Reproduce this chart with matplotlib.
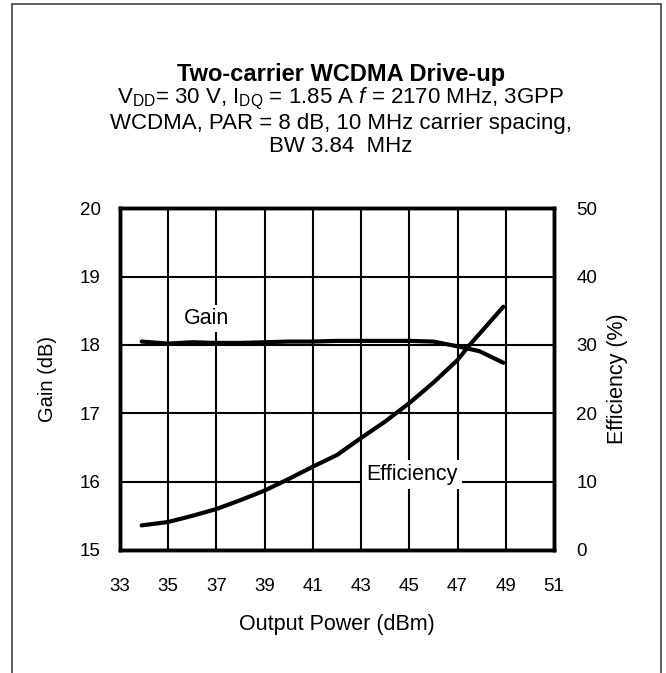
import matplotlib.pyplot as plt
from matplotlib.patches import Rectangle

plt.rcParams['font.family'] = ['Liberation Sans', 'DejaVu Sans']
plt.rcParams['mathtext.fontset'] = 'custom'
plt.rcParams['mathtext.rm'] = 'Liberation Sans'
plt.rcParams['mathtext.it'] = 'Liberation Sans:italic'

# data
pout = [33.9, 35.0, 36.0, 37.0, 38.0, 39.0, 40.0, 41.0, 42.0, 43.0, 44.0, 45.0, 46.0, 47.0, 47.9, 48.9]
gain = [18.05, 18.02, 18.04, 18.03, 18.03, 18.04, 18.05, 18.05, 18.06, 18.06, 18.06, 18.06, 18.05, 17.98, 17.91, 17.74]

pout_eff = [33.9, 35.0, 36.0, 37.0, 38.0, 39.0, 40.0, 41.0, 42.0, 43.0, 44.0, 45.0, 46.0, 47.0, 47.5, 48.0, 48.9]
eff = [3.6, 4.1, 5.0, 6.0, 7.3, 8.7, 10.4, 12.2, 13.9, 16.4, 18.8, 21.5, 24.5, 27.8, 30.0, 32.0, 35.6]

xticks = [33, 35, 37, 39, 41, 43, 45, 47, 49, 51]
gain_ticks = [15, 16, 17, 18, 19, 20]
eff_ticks = [0, 10, 20, 30, 40, 50]

fig = plt.figure(figsize=(6.66, 6.73), dpi=100)
ax = fig.add_axes([120 / 666, 123 / 673, 434 / 666, 341.7 / 673])
ax2 = ax.twinx()

ax.set_xlim(33, 51)
ax.set_ylim(15, 20)
ax2.set_ylim(0, 50)
ax.set_xticks(xticks)
ax.set_yticks(gain_ticks)
ax2.set_yticks(eff_ticks)
ax.grid(True, color='black', linewidth=1.5)
ax.set_axisbelow(True)

ax.plot(pout, gain, color='black', linewidth=3, solid_capstyle='round', zorder=3)
ax2.plot(pout_eff, eff, color='black', linewidth=3, solid_capstyle='round', zorder=3)

for a in (ax, ax2):
    for s in a.spines.values():
        s.set_linewidth(2.5)
    a.tick_params(length=0, labelsize=13.5)
ax.tick_params(axis='x', pad=20)
ax.tick_params(axis='y', pad=14)
ax2.tick_params(axis='y', pad=16)

ax.set_xlabel('Output Power (dBm)', fontsize=15.5, labelpad=14)
ax.set_ylabel('Gain (dB)', fontsize=14.5, labelpad=16)
ax2.set_ylabel('Efficiency (%)', fontsize=15.5, labelpad=7)

ax.text(36.6, 18.39, 'Gain', fontsize=15.5, ha='center', va='center', zorder=4,
        bbox=dict(facecolor='white', edgecolor='none', pad=2))
ax.text(45.1, 16.11, 'Efficiency', fontsize=15.5, ha='center', va='center', zorder=4,
        bbox=dict(facecolor='white', edgecolor='none', pad=3))

cx = 341 / 666
fig.text(cx, 1 - 75 / 673, 'Two-carrier WCDMA Drive-up', fontsize=17, fontweight='bold',
         ha='center', va='center')
fig.text(cx, 1 - 99 / 673, r'V$_{\mathrm{DD}}$= 30 V, I$_{\mathrm{DQ}}$ = 1.85 A $\mathit{f}$ = 2170 MHz, 3GPP',
         fontsize=16, ha='center', va='center')
fig.text(cx, 1 - 123 / 673, 'WCDMA, PAR = 8 dB, 10 MHz carrier spacing,', fontsize=16,
         ha='center', va='center')
fig.text(cx, 1 - 147 / 673, 'BW 3.84  MHz', fontsize=16, ha='center', va='center')

fig.patches.append(Rectangle((12 / 666, -0.05), 649 / 666, 1.05 - 4 / 673, transform=fig.transFigure,
                             fill=False, edgecolor='#444444', linewidth=1.2))

fig.savefig('out.png', dpi=100)
